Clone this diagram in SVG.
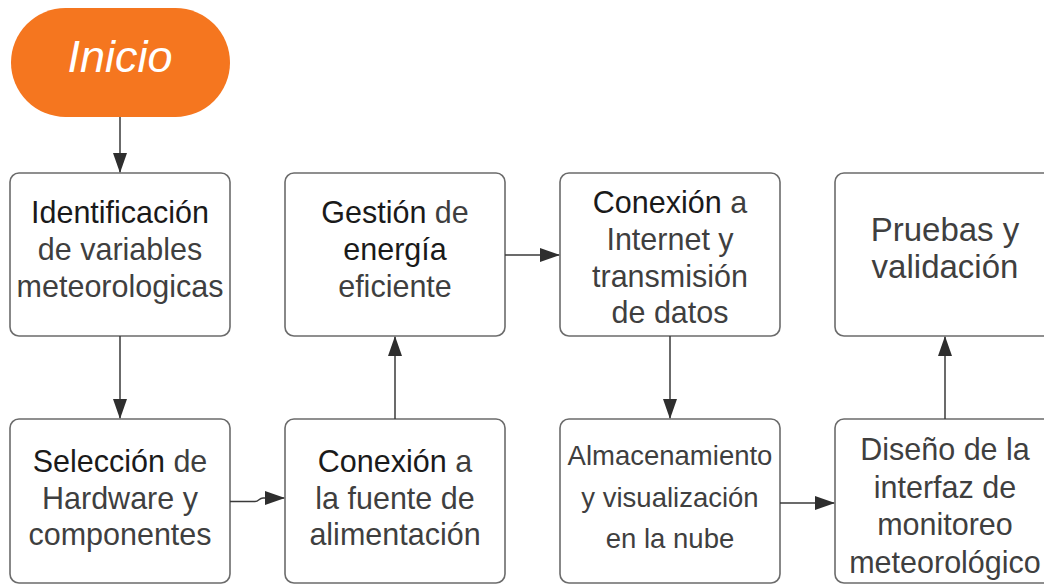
<svg xmlns="http://www.w3.org/2000/svg" width="1044" height="585" viewBox="0 0 1044 585">
<style>
.box{fill:#ffffff;stroke:#6b6b6b;stroke-width:1.6}
.t{font-family:"Liberation Sans",Arial,sans-serif;font-size:30.5px;fill:#3f3f3f;text-anchor:middle}
.s{font-size:27.5px}
.l{font-size:33px}
.d{fill:#1a1a1a}
.c{fill:none;stroke:#3a3a3a;stroke-width:1.5}
</style>
<defs>
<marker id="ah" markerWidth="20" markerHeight="14" refX="19" refY="7" orient="auto" markerUnits="userSpaceOnUse">
<path d="M0,0 L20,7 L0,14 Z" fill="#2e2e2e"/>
</marker>
</defs>
<rect width="1044" height="585" fill="#ffffff"/>
<g id="inicio">
<rect x="11" y="8" width="219" height="109" rx="54.5" fill="#F5761F"/>
<text x="120" y="72" font-family="Liberation Sans,Arial,sans-serif" font-size="45" font-style="italic" fill="#ffffff" text-anchor="middle">Inicio</text>
</g>
<g id="identificacion">
<rect class="box" x="10" y="173" width="220" height="163" rx="9"/>
<text class="t" x="120" y="223"><tspan class="d">Identificación</tspan><tspan x="120" dy="37">de variables</tspan><tspan x="120" dy="37">meteorologicas</tspan></text>
</g>
<g id="gestion">
<rect class="box" x="285" y="173" width="220" height="163" rx="9"/>
<text class="t" x="395" y="223"><tspan class="d">Gestión</tspan> de<tspan x="395" dy="37" class="d">energía</tspan><tspan x="395" dy="37">eficiente</tspan></text>
</g>
<g id="internet">
<rect class="box" x="560" y="173" width="220" height="163" rx="9"/>
<text class="t" x="670" y="213"><tspan class="d">Conexión</tspan> a<tspan x="670" dy="37">Internet y</tspan><tspan x="670" dy="37">transmisión</tspan><tspan x="670" dy="36">de datos</tspan></text>
</g>
<g id="pruebas">
<rect class="box" x="835" y="173" width="230" height="163" rx="9"/>
<text class="t l" x="945" y="241">Pruebas y<tspan x="945" dy="37">validación</tspan></text>
</g>
<g id="seleccion">
<rect class="box" x="10" y="419" width="220" height="164" rx="9"/>
<text class="t" x="120" y="472"><tspan class="d">Selección</tspan> de<tspan x="120" dy="36.5">Hardware y</tspan><tspan x="120" dy="36.5">componentes</tspan></text>
</g>
<g id="fuente">
<rect class="box" x="285" y="419" width="220" height="164" rx="9"/>
<text class="t" x="395" y="472"><tspan class="d">Conexión</tspan> a<tspan x="395" dy="36.5">la fuente de</tspan><tspan x="395" dy="36.5">alimentación</tspan></text>
</g>
<g id="almacenamiento">
<rect class="box" x="560" y="419" width="220" height="164" rx="9"/>
<text class="t s" x="670" y="465">Almacenamiento<tspan x="670" dy="41.5">y visualización</tspan><tspan x="670" dy="41.5">en la nube</tspan></text>
</g>
<g id="interfaz">
<rect class="box" x="835" y="419" width="230" height="164" rx="9"/>
<text class="t" x="945" y="460">Diseño de la<tspan x="945" dy="37.5">interfaz de</tspan><tspan x="945" dy="37.5">monitoreo</tspan><tspan x="945" dy="37.5">meteorológico</tspan></text>
</g>
<g id="connectors">
<path class="c" d="M120,117 L120,172" marker-end="url(#ah)"/>
<path class="c" d="M120,336 L120,418" marker-end="url(#ah)"/>
<path class="c" d="M230,501.5 L255,501.5 C259,501.5 259,498 263,498 L284,498" marker-end="url(#ah)"/>
<path class="c" d="M395,419 L395,337" marker-end="url(#ah)"/>
<path class="c" d="M505,255 L559,255" marker-end="url(#ah)"/>
<path class="c" d="M670,336 L670,418" marker-end="url(#ah)"/>
<path class="c" d="M780,503 L834,503" marker-end="url(#ah)"/>
<path class="c" d="M945,419 L945,337" marker-end="url(#ah)"/>
</g>
</svg>
